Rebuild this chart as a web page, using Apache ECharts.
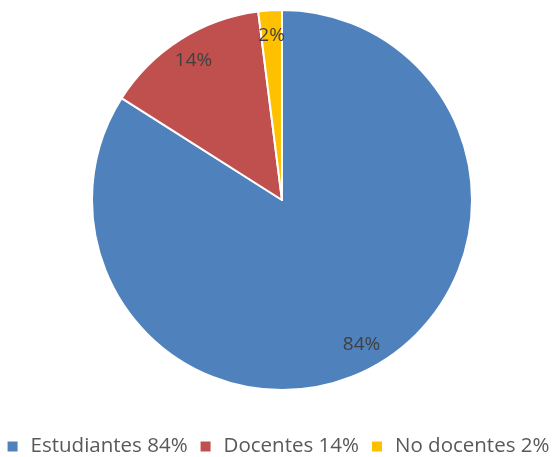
<!DOCTYPE html>
<html>
<head>
<meta charset="utf-8">
<script src="https://cdn.jsdelivr.net/npm/echarts@6/dist/echarts.min.js"></script>
<style>
  html, body { margin: 0; padding: 0; background: #fff; }
  #chart { width: 557px; height: 457px; }
</style>
</head>
<body>
<div id="chart"></div>
<script>
// data
var categories = ["Estudiantes", "Docentes", "No docentes"];
var values = [84, 14, 2];
var colors = ["#4F81BD", "#C0504D", "#FFC000"];

var pieData = categories.map(function(name, i) {
  return { name: name, value: values[i] };
});

var chart = echarts.init(document.getElementById("chart"));

chart.setOption({
  animation: false,
  color: colors,
  legend: {
    top: 431,
    left: "center",
    icon: "rect",
    itemWidth: 10,
    itemHeight: 10,
    itemGap: 13,
    itemStyle: { borderWidth: 0 },
    textStyle: {
      fontFamily: "Open Sans",
      fontSize: 20.5,
      color: "#595959",
      padding: [0, 0, 0, 8]
    },
    formatter: function(name) {
      var i = categories.indexOf(name);
      return name + " " + values[i] + "%";
    },
    data: categories
  },
  series: [
    {
      // the slices
      type: "pie",
      center: [282, 200],
      radius: [0, 190],
      startAngle: 90,
      clockwise: true,
      silent: true,
      itemStyle: { borderColor: "#fff", borderWidth: 2 },
      label: { show: false },
      labelLine: { show: false },
      data: pieData
    },
    {
      // transparent ring that only carries the labels near the rim
      type: "pie",
      center: [282, 200],
      radius: [134, 190],
      startAngle: 90,
      clockwise: true,
      silent: true,
      itemStyle: { color: "transparent", borderWidth: 0 },
      label: {
        show: true,
        position: "inside",
        formatter: "{c}%",
        fontFamily: "Open Sans",
        fontSize: 19,
        color: "#404040"
      },
      labelLine: { show: false },
      data: pieData
    }
  ]
});
</script>
</body>
</html>
